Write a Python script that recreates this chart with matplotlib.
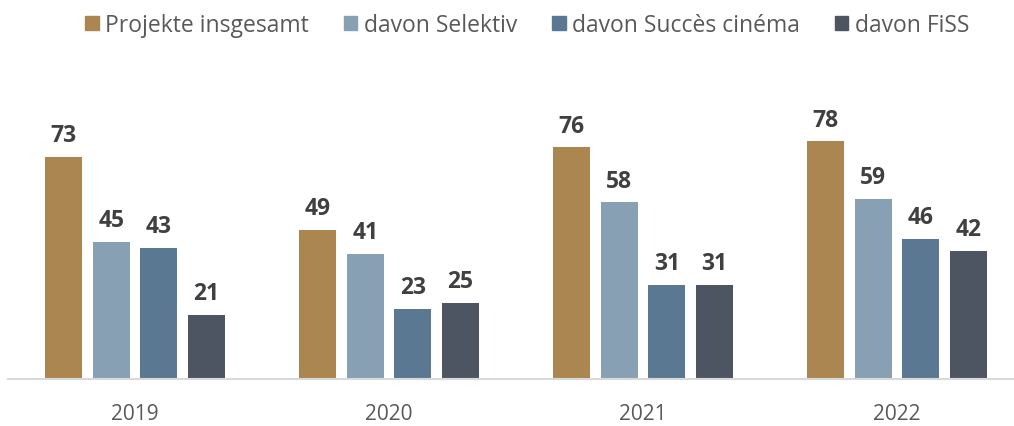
import numpy as np
import matplotlib
matplotlib.use("Agg")
import matplotlib.pyplot as plt
from matplotlib.patches import Patch

years = ["2019", "2020", "2021", "2022"]
series = ["Projekte insgesamt", "davon Selektiv", "davon Succès cinéma", "davon FiSS"]
projekte = [73, 49, 76, 78]
selektiv = [45, 41, 58, 59]
succes = [43, 23, 31, 46]
fiss = [21, 25, 31, 42]
colors = ["#AC8650", "#88A0B3", "#5B7893", "#4D5563"]

plt.rcParams['font.family'] = ['Open Sans', 'DejaVu Sans']

fig = plt.figure(figsize=(10.14, 4.27), dpi=100)
ax = fig.add_axes([8/1014, 47/427, 1006/1014, 320/427])

x = np.arange(len(years))
width = 0.146
step = 0.187
offsets = (np.arange(4) - 1.5) * step

for vals, off, col in zip([projekte, selektiv, succes, fiss], offsets, colors):
    bars = ax.bar(x + off, vals, width, color=col, zorder=2)
    for b, v in zip(bars, vals):
        ax.annotate(str(v), (b.get_x() + b.get_width()/2, v),
                    xytext=(0, 7), textcoords="offset points",
                    ha="center", va="bottom", fontsize=16.5, fontweight="bold",
                    color="#404040")

ax.set_xlim(-0.5, 3.46)
ax.set_ylim(0, 105)
ax.set_xticks(x)
ax.set_xticklabels(years, fontsize=15, color="#595959")
ax.tick_params(axis="x", length=0, pad=17)
ax.set_yticks([])
for s in ["top", "left", "right"]:
    ax.spines[s].set_visible(False)
ax.spines["bottom"].set_color("#D9D9D9")
ax.spines["bottom"].set_linewidth(1.5)

handles = [Patch(color=c, label=l) for c, l in zip(colors, series)]
fig.legend(handles=handles, loc="upper center", bbox_to_anchor=(0.52, 1.015),
           ncol=4, frameon=False, fontsize=16.5, handlelength=0.6, handleheight=0.6,
           handletextpad=0.3, columnspacing=1.5, labelcolor="#595959")

fig.savefig("out.png", dpi=100)
